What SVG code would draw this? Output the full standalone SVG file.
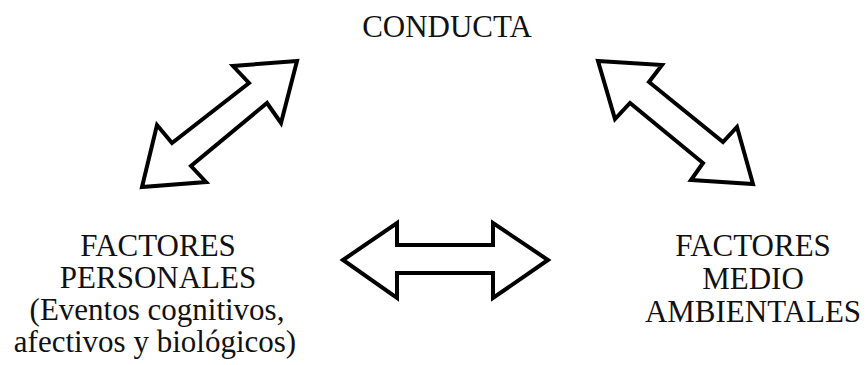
<svg xmlns="http://www.w3.org/2000/svg" width="868" height="365" viewBox="0 0 868 365">
<style>
.lbl{font-family:"Liberation Serif","Times New Roman",serif;font-size:31px;fill:#111;text-anchor:middle}
.arr{fill:#fff;stroke:#000;stroke-width:4;stroke-linejoin:miter}
</style>
<rect width="868" height="365" fill="#fff"/>
<g id="conducta"><text class="lbl" x="447" y="37">CONDUCTA</text></g>
<g id="personales">
<text class="lbl" x="158" y="256">FACTORES</text>
<text class="lbl" x="158" y="288">PERSONALES</text>
<text class="lbl" x="157" y="320">(Eventos cognitivos,</text>
<text class="lbl" x="155" y="352">afectivos y biológicos)</text>
</g>
<g id="ambientales">
<text class="lbl" x="753" y="256">FACTORES</text>
<text class="lbl" x="753" y="289">MEDIO</text>
<text class="lbl" x="753" y="322">AMBIENTALES</text>
</g>
<g id="connectors">
<polygon class="arr" points="297,61 233,66 249,83 172,143 157,125 142,187 206,182 191,166 267,103 281,123"/>
<polygon class="arr" points="598,61 662,65 649,82 723,142 737,127 753,184 691,180 703,163 630,103 615,119"/>
<polygon class="arr" points="343,260 397,223 397,245 493,245 493,223 548,260 493,298 493,273 397,273 397,298"/>
</g>
</svg>
